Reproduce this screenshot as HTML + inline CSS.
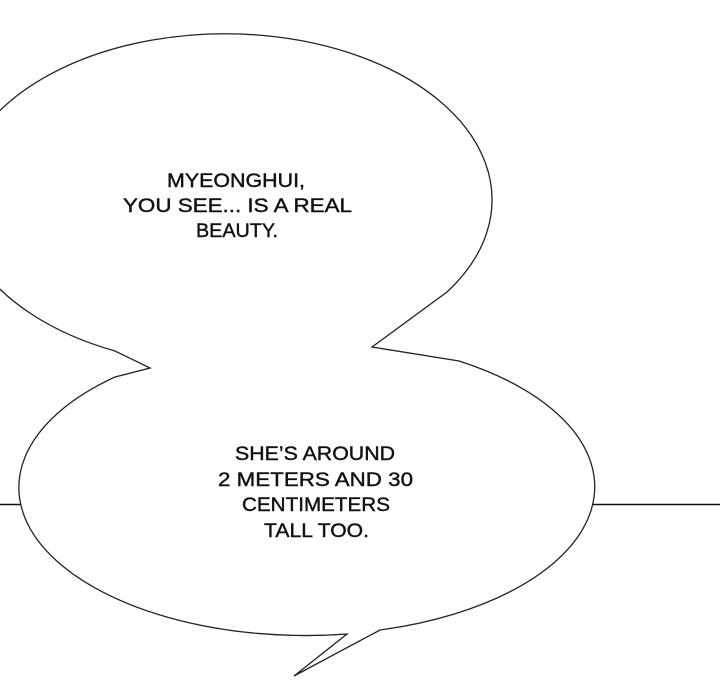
<!DOCTYPE html>
<html><head><style>html,body{margin:0;padding:0;background:#fff}svg{display:block}</style></head>
<body>
<svg width="720" height="700" viewBox="0 0 720 700" xmlns="http://www.w3.org/2000/svg">
<rect width="720" height="700" fill="#fff"/>
<line x1="0" y1="504.5" x2="720" y2="504.5" stroke="#111" stroke-width="1.6"/>
<path d="M150,368 L115,351 A267,166 0 1,1 447,292 L372,347 L459,361 A287,148 0 0,1 380,630 L294,676 L347,634 A287,148 0 0,1 115,377 Z" fill="#fff" stroke="#222" stroke-width="1.3" stroke-linejoin="miter"/>
<g font-family="Liberation Sans, sans-serif" font-size="19" fill="#111" stroke="#111" stroke-width="0.4" text-anchor="start">
<text x="167" y="187" textLength="138" lengthAdjust="spacingAndGlyphs">MYEONGHUI,</text>
<text x="123" y="212" textLength="229" lengthAdjust="spacingAndGlyphs">YOU SEE... IS A REAL</text>
<text x="196" y="237" textLength="82" lengthAdjust="spacingAndGlyphs">BEAUTY.</text>
<text x="235" y="460" textLength="160" lengthAdjust="spacingAndGlyphs">SHE’S AROUND</text>
<text x="218" y="486" textLength="195" lengthAdjust="spacingAndGlyphs">2 METERS AND 30</text>
<text x="242" y="511" textLength="148" lengthAdjust="spacingAndGlyphs">CENTIMETERS</text>
<text x="264" y="537" textLength="105" lengthAdjust="spacingAndGlyphs">TALL TOO.</text>
</g>
</svg>
</body></html>
